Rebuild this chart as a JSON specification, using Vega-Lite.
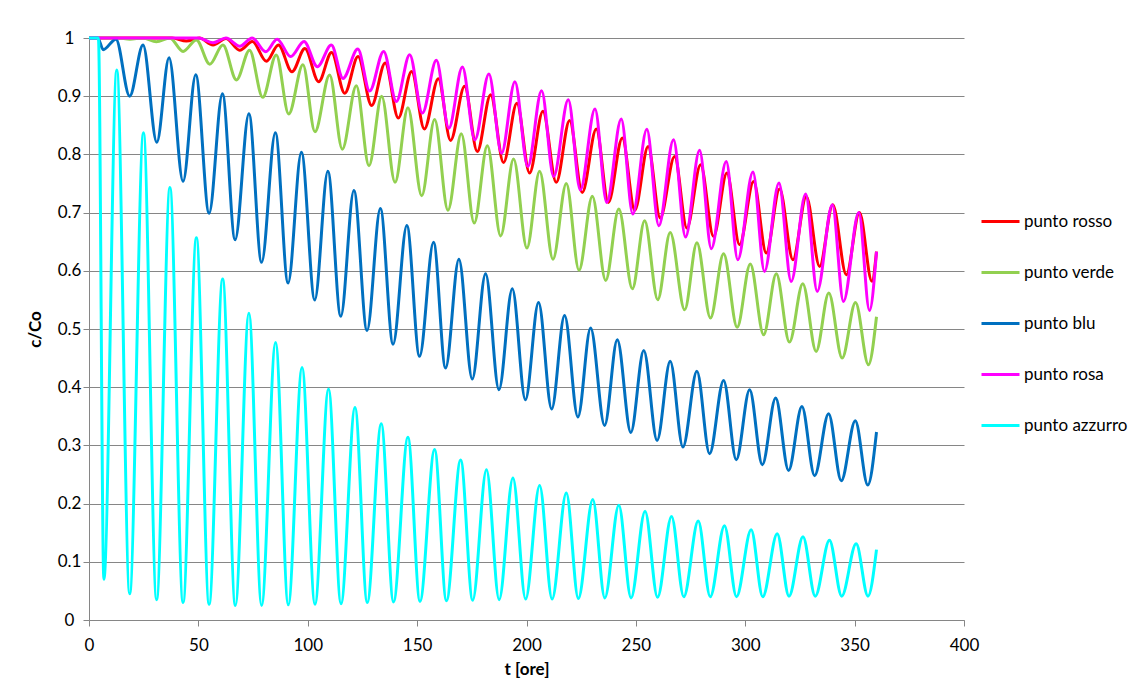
{
  "$schema": "https://vega.github.io/schema/vega-lite/v6.json",
  "autosize": {"type": "none"},
  "width": 875,
  "height": 582,
  "padding": {"left": 89, "top": 38, "right": 175, "bottom": 64},
  "background": "white",
  "config": {
    "view": {"stroke": null},
    "font": "Lato",
    "axis": {"labelFont": "Lato", "titleFont": "Lato", "labelColor": "#000000", "titleColor": "#000000", "domainColor": "#868686", "tickColor": "#868686", "gridColor": "#868686", "labelFontSize": 17, "titleFontSize": 17, "titleFontWeight": "bold", "tickSize": 6, "labelOverlap": false, "labelFlush": false}
  },
  "data": {"values": [
    {"s":"punto rosso","t":0,"v":1},{"s":"punto rosso","t":38,"v":1},{"s":"punto rosso","t":44.5,"v":0.995},{"s":"punto rosso","t":50.5,"v":1},{"s":"punto rosso","t":56.7,"v":0.988},{"s":"punto rosso","t":62.6,"v":0.999},{"s":"punto rosso","t":68.9,"v":0.979},{"s":"punto rosso","t":74.7,"v":0.994},{"s":"punto rosso","t":81.1,"v":0.96},{"s":"punto rosso","t":86.6,"v":0.988},{"s":"punto rosso","t":92.8,"v":0.942},{"s":"punto rosso","t":98.7,"v":0.982},{"s":"punto rosso","t":105,"v":0.925},{"s":"punto rosso","t":110.9,"v":0.975},{"s":"punto rosso","t":116.9,"v":0.905},{"s":"punto rosso","t":123,"v":0.968},{"s":"punto rosso","t":129.2,"v":0.884},{"s":"punto rosso","t":135.4,"v":0.957},{"s":"punto rosso","t":141.4,"v":0.8625},{"s":"punto rosso","t":147.5,"v":0.9426},{"s":"punto rosso","t":153.3,"v":0.8436},{"s":"punto rosso","t":159.7,"v":0.93},{"s":"punto rosso","t":165.3,"v":0.824},{"s":"punto rosso","t":171.7,"v":0.917},{"s":"punto rosso","t":177.5,"v":0.805},{"s":"punto rosso","t":183.6,"v":0.9026},{"s":"punto rosso","t":189.5,"v":0.786},{"s":"punto rosso","t":195.6,"v":0.888},{"s":"punto rosso","t":201.4,"v":0.768},{"s":"punto rosso","t":207.5,"v":0.874},{"s":"punto rosso","t":213.6,"v":0.752},{"s":"punto rosso","t":219.7,"v":0.8584},{"s":"punto rosso","t":225.5,"v":0.7347},{"s":"punto rosso","t":231.9,"v":0.8436},{"s":"punto rosso","t":237.4,"v":0.7175},{"s":"punto rosso","t":243.8,"v":0.828},{"s":"punto rosso","t":249.5,"v":0.704},{"s":"punto rosso","t":255.6,"v":0.8135},{"s":"punto rosso","t":261.1,"v":0.6907},{"s":"punto rosso","t":267.7,"v":0.7966},{"s":"punto rosso","t":273.3,"v":0.6735},{"s":"punto rosso","t":279.6,"v":0.7823},{"s":"punto rosso","t":285.5,"v":0.659},{"s":"punto rosso","t":291.6,"v":0.768},{"s":"punto rosso","t":297.4,"v":0.6448},{"s":"punto rosso","t":303.8,"v":0.7536},{"s":"punto rosso","t":309.6,"v":0.6306},{"s":"punto rosso","t":315.7,"v":0.7405},{"s":"punto rosso","t":321.8,"v":0.619},{"s":"punto rosso","t":327.9,"v":0.7278},{"s":"punto rosso","t":334,"v":0.6076},{"s":"punto rosso","t":340,"v":0.7136},{"s":"punto rosso","t":346.2,"v":0.5933},{"s":"punto rosso","t":352.2,"v":0.7003},{"s":"punto rosso","t":357.9,"v":0.582},{"s":"punto rosso","t":360,"v":0.633},

    {"s":"punto verde","t":0,"v":1},{"s":"punto verde","t":13,"v":1},{"s":"punto verde","t":18.7,"v":0.998},{"s":"punto verde","t":24.7,"v":1},{"s":"punto verde","t":30.8,"v":0.9936},{"s":"punto verde","t":36.9,"v":1},{"s":"punto verde","t":43,"v":0.977},{"s":"punto verde","t":49.1,"v":0.9966},{"s":"punto verde","t":55.2,"v":0.955},{"s":"punto verde","t":61.2,"v":0.988},{"s":"punto verde","t":67.4,"v":0.928},{"s":"punto verde","t":73.4,"v":0.979},{"s":"punto verde","t":79.4,"v":0.898},{"s":"punto verde","t":85.6,"v":0.971},{"s":"punto verde","t":91.3,"v":0.8695},{"s":"punto verde","t":97.8,"v":0.954},{"s":"punto verde","t":103.3,"v":0.839},{"s":"punto verde","t":110,"v":0.9364},{"s":"punto verde","t":115.8,"v":0.809},{"s":"punto verde","t":122.2,"v":0.918},{"s":"punto verde","t":128,"v":0.7806},{"s":"punto verde","t":133.8,"v":0.9},{"s":"punto verde","t":139.9,"v":0.752},{"s":"punto verde","t":145.8,"v":0.88},{"s":"punto verde","t":152.1,"v":0.729},{"s":"punto verde","t":158,"v":0.86},{"s":"punto verde","t":164.1,"v":0.704},{"s":"punto verde","t":170.2,"v":0.8356},{"s":"punto verde","t":176.1,"v":0.682},{"s":"punto verde","t":182.1,"v":0.815},{"s":"punto verde","t":188.2,"v":0.66},{"s":"punto verde","t":194.1,"v":0.792},{"s":"punto verde","t":200.2,"v":0.639},{"s":"punto verde","t":206,"v":0.771},{"s":"punto verde","t":212.1,"v":0.62},{"s":"punto verde","t":218.2,"v":0.75},{"s":"punto verde","t":224,"v":0.601},{"s":"punto verde","t":230.1,"v":0.728},{"s":"punto verde","t":236.2,"v":0.5835},{"s":"punto verde","t":242.2,"v":0.706},{"s":"punto verde","t":248.4,"v":0.569},{"s":"punto verde","t":254,"v":0.686},{"s":"punto verde","t":260,"v":0.5503},{"s":"punto verde","t":265.7,"v":0.666},{"s":"punto verde","t":272.3,"v":0.533},{"s":"punto verde","t":277.9,"v":0.648},{"s":"punto verde","t":284.1,"v":0.519},{"s":"punto verde","t":290.1,"v":0.6294},{"s":"punto verde","t":296.3,"v":0.503},{"s":"punto verde","t":302.3,"v":0.6117},{"s":"punto verde","t":308.4,"v":0.49},{"s":"punto verde","t":314.2,"v":0.595},{"s":"punto verde","t":320.2,"v":0.4775},{"s":"punto verde","t":326.3,"v":0.5778},{"s":"punto verde","t":332.4,"v":0.4615},{"s":"punto verde","t":338.2,"v":0.5618},{"s":"punto verde","t":344.3,"v":0.45},{"s":"punto verde","t":350.4,"v":0.5457},{"s":"punto verde","t":356.3,"v":0.4387},{"s":"punto verde","t":360,"v":0.521},

    {"s":"punto blu","t":0,"v":1},{"s":"punto blu","t":4,"v":1},{"s":"punto blu","t":6.5,"v":0.98},{"s":"punto blu","t":12.3,"v":0.998},{"s":"punto blu","t":18.6,"v":0.9},{"s":"punto blu","t":24.7,"v":0.988},{"s":"punto blu","t":31,"v":0.8207},{"s":"punto blu","t":36.6,"v":0.966},{"s":"punto blu","t":43,"v":0.7537},{"s":"punto blu","t":48.8,"v":0.937},{"s":"punto blu","t":54.9,"v":0.699},{"s":"punto blu","t":61,"v":0.904},{"s":"punto blu","t":66.8,"v":0.6534},{"s":"punto blu","t":73.1,"v":0.87},{"s":"punto blu","t":78.9,"v":0.6145},{"s":"punto blu","t":85.2,"v":0.837},{"s":"punto blu","t":91,"v":0.579},{"s":"punto blu","t":97.1,"v":0.8035},{"s":"punto blu","t":103.2,"v":0.55},{"s":"punto blu","t":109.2,"v":0.771},{"s":"punto blu","t":115.1,"v":0.5217},{"s":"punto blu","t":121.1,"v":0.738},{"s":"punto blu","t":127.1,"v":0.4975},{"s":"punto blu","t":133.2,"v":0.707},{"s":"punto blu","t":139,"v":0.474},{"s":"punto blu","t":145.3,"v":0.678},{"s":"punto blu","t":151.1,"v":0.453},{"s":"punto blu","t":157.5,"v":0.649},{"s":"punto blu","t":163,"v":0.433},{"s":"punto blu","t":169.1,"v":0.62},{"s":"punto blu","t":175.2,"v":0.414},{"s":"punto blu","t":181.3,"v":0.595},{"s":"punto blu","t":187.4,"v":0.3957},{"s":"punto blu","t":193.5,"v":0.569},{"s":"punto blu","t":199.5,"v":0.3785},{"s":"punto blu","t":205.5,"v":0.5457},{"s":"punto blu","t":211.5,"v":0.3625},{"s":"punto blu","t":217.4,"v":0.523},{"s":"punto blu","t":223.5,"v":0.3488},{"s":"punto blu","t":229.3,"v":0.5017},{"s":"punto blu","t":235.7,"v":0.3344},{"s":"punto blu","t":241.5,"v":0.4816},{"s":"punto blu","t":247.7,"v":0.3223},{"s":"punto blu","t":253.6,"v":0.4632},{"s":"punto blu","t":259.7,"v":0.3086},{"s":"punto blu","t":265.7,"v":0.4444},{"s":"punto blu","t":271.5,"v":0.2972},{"s":"punto blu","t":277.9,"v":0.4272},{"s":"punto blu","t":283.7,"v":0.2857},{"s":"punto blu","t":290.1,"v":0.4117},{"s":"punto blu","t":295.9,"v":0.2754},{"s":"punto blu","t":302,"v":0.3957},{"s":"punto blu","t":307.8,"v":0.2668},{"s":"punto blu","t":313.9,"v":0.3814},{"s":"punto blu","t":319.8,"v":0.257},{"s":"punto blu","t":325.9,"v":0.367},{"s":"punto blu","t":331.7,"v":0.248},{"s":"punto blu","t":338.1,"v":0.3545},{"s":"punto blu","t":343.9,"v":0.2393},{"s":"punto blu","t":350.3,"v":0.3424},{"s":"punto blu","t":356,"v":0.232},{"s":"punto blu","t":360,"v":0.323},

    {"s":"punto rosa","t":0,"v":1},{"s":"punto rosa","t":50,"v":1},{"s":"punto rosa","t":56.7,"v":0.992},{"s":"punto rosa","t":62.6,"v":1},{"s":"punto rosa","t":68.9,"v":0.986},{"s":"punto rosa","t":74.6,"v":1},{"s":"punto rosa","t":80.8,"v":0.9765},{"s":"punto rosa","t":86,"v":0.998},{"s":"punto rosa","t":92.2,"v":0.968},{"s":"punto rosa","t":98.3,"v":0.994},{"s":"punto rosa","t":104.4,"v":0.9507},{"s":"punto rosa","t":110.8,"v":0.988},{"s":"punto rosa","t":116.1,"v":0.9306},{"s":"punto rosa","t":122.9,"v":0.981},{"s":"punto rosa","t":128.3,"v":0.909},{"s":"punto rosa","t":134.7,"v":0.977},{"s":"punto rosa","t":140.5,"v":0.891},{"s":"punto rosa","t":146.6,"v":0.9713},{"s":"punto rosa","t":152.4,"v":0.871},{"s":"punto rosa","t":158.8,"v":0.9616},{"s":"punto rosa","t":164.5,"v":0.845},{"s":"punto rosa","t":170.7,"v":0.95},{"s":"punto rosa","t":176.4,"v":0.825},{"s":"punto rosa","t":182.8,"v":0.938},{"s":"punto rosa","t":188.6,"v":0.802},{"s":"punto rosa","t":194.7,"v":0.925},{"s":"punto rosa","t":200.6,"v":0.779},{"s":"punto rosa","t":206.9,"v":0.9095},{"s":"punto rosa","t":212.4,"v":0.762},{"s":"punto rosa","t":219.1,"v":0.894},{"s":"punto rosa","t":224.6,"v":0.739},{"s":"punto rosa","t":231.3,"v":0.878},{"s":"punto rosa","t":236.7,"v":0.7175},{"s":"punto rosa","t":243.3,"v":0.861},{"s":"punto rosa","t":248.6,"v":0.6976},{"s":"punto rosa","t":255,"v":0.843},{"s":"punto rosa","t":260.5,"v":0.6775},{"s":"punto rosa","t":267.2,"v":0.8253},{"s":"punto rosa","t":272.7,"v":0.658},{"s":"punto rosa","t":279.1,"v":0.807},{"s":"punto rosa","t":284.5,"v":0.638},{"s":"punto rosa","t":291.3,"v":0.788},{"s":"punto rosa","t":296.6,"v":0.619},{"s":"punto rosa","t":303.5,"v":0.7698},{"s":"punto rosa","t":308.8,"v":0.599},{"s":"punto rosa","t":315.4,"v":0.7509},{"s":"punto rosa","t":321,"v":0.5818},{"s":"punto rosa","t":327.6,"v":0.732},{"s":"punto rosa","t":332.9,"v":0.5646},{"s":"punto rosa","t":339.8,"v":0.7136},{"s":"punto rosa","t":344.9,"v":0.5474},{"s":"punto rosa","t":351.9,"v":0.7},{"s":"punto rosa","t":356.8,"v":0.532},{"s":"punto rosa","t":360,"v":0.633},

    {"s":"punto azzurro","t":0,"v":1},{"s":"punto azzurro","t":4.3,"v":1},{"s":"punto azzurro","t":6.8,"v":0.07},{"s":"punto azzurro","t":12.7,"v":0.945},{"s":"punto azzurro","t":18.6,"v":0.045},{"s":"punto azzurro","t":24.9,"v":0.837},{"s":"punto azzurro","t":30.9,"v":0.035},{"s":"punto azzurro","t":37,"v":0.743},{"s":"punto azzurro","t":43,"v":0.03},{"s":"punto azzurro","t":49.1,"v":0.657},{"s":"punto azzurro","t":54.9,"v":0.027},{"s":"punto azzurro","t":61.1,"v":0.586},{"s":"punto azzurro","t":66.9,"v":0.025},{"s":"punto azzurro","t":73.1,"v":0.527},{"s":"punto azzurro","t":78.9,"v":0.025},{"s":"punto azzurro","t":85.3,"v":0.477},{"s":"punto azzurro","t":91.1,"v":0.026},{"s":"punto azzurro","t":97.4,"v":0.434},{"s":"punto azzurro","t":103.3,"v":0.027},{"s":"punto azzurro","t":109.5,"v":0.397},{"s":"punto azzurro","t":115.2,"v":0.028},{"s":"punto azzurro","t":121.6,"v":0.365},{"s":"punto azzurro","t":127.2,"v":0.03},{"s":"punto azzurro","t":133.6,"v":0.337},{"s":"punto azzurro","t":139.2,"v":0.031},{"s":"punto azzurro","t":145.8,"v":0.314},{"s":"punto azzurro","t":151.3,"v":0.032},{"s":"punto azzurro","t":158,"v":0.293},{"s":"punto azzurro","t":163.4,"v":0.033},{"s":"punto azzurro","t":169.9,"v":0.275},{"s":"punto azzurro","t":175.4,"v":0.034},{"s":"punto azzurro","t":181.7,"v":0.258},{"s":"punto azzurro","t":187.5,"v":0.035},{"s":"punto azzurro","t":193.8,"v":0.244},{"s":"punto azzurro","t":199.6,"v":0.036},{"s":"punto azzurro","t":206,"v":0.231},{"s":"punto azzurro","t":211.7,"v":0.036},{"s":"punto azzurro","t":218.2,"v":0.218},{"s":"punto azzurro","t":223.7,"v":0.037},{"s":"punto azzurro","t":230.3,"v":0.207},{"s":"punto azzurro","t":235.8,"v":0.038},{"s":"punto azzurro","t":242.2,"v":0.197},{"s":"punto azzurro","t":247.8,"v":0.038},{"s":"punto azzurro","t":254.2,"v":0.187},{"s":"punto azzurro","t":259.9,"v":0.039},{"s":"punto azzurro","t":266.3,"v":0.178},{"s":"punto azzurro","t":271.9,"v":0.04},{"s":"punto azzurro","t":278.5,"v":0.17},{"s":"punto azzurro","t":284,"v":0.04},{"s":"punto azzurro","t":290.5,"v":0.162},{"s":"punto azzurro","t":296,"v":0.04},{"s":"punto azzurro","t":302.7,"v":0.155},{"s":"punto azzurro","t":308,"v":0.04},{"s":"punto azzurro","t":314.6,"v":0.148},{"s":"punto azzurro","t":320,"v":0.041},{"s":"punto azzurro","t":326.4,"v":0.143},{"s":"punto azzurro","t":332,"v":0.041},{"s":"punto azzurro","t":338.5,"v":0.137},{"s":"punto azzurro","t":344.1,"v":0.041},{"s":"punto azzurro","t":350.7,"v":0.131},{"s":"punto azzurro","t":356.1,"v":0.041},{"s":"punto azzurro","t":360,"v":0.121}
  ]},
  "mark": {"type": "line", "interpolate": "monotone", "strokeWidth": 3, "clip": false},
  "encoding": {
    "x": {"field": "t", "type": "quantitative", "scale": {"domain": [0, 400], "nice": false},
      "axis": {"values": [0, 50, 100, 150, 200, 250, 300, 350, 400], "grid": false, "title": "t [ore]", "labelPadding": 11, "titlePadding": 8}},
    "y": {"field": "v", "type": "quantitative", "scale": {"domain": [0, 1], "nice": false},
      "axis": {"values": [0, 0.1, 0.2, 0.3, 0.4, 0.5, 0.6, 0.7, 0.8, 0.9, 1], "format": ".1~f", "grid": true, "title": "c/Co", "labelAlign": "center", "labelPadding": 14, "titlePadding": 13}},
    "color": {"field": "s", "type": "nominal",
      "scale": {"domain": ["punto rosso", "punto verde", "punto blu", "punto rosa", "punto azzurro"], "range": ["#FF0000", "#92D050", "#0070C0", "#FF00FF", "#00FFFF"]},
      "legend": {"title": null, "orient": "none", "legendX": 891, "legendY": 163, "symbolType": "stroke", "symbolSize": 1444, "symbolStrokeWidth": 3, "labelFontSize": 17, "labelFont": "Lato", "labelColor": "#000000", "labelOffset": 3, "rowPadding": 22, "padding": 0}}
  }
}
